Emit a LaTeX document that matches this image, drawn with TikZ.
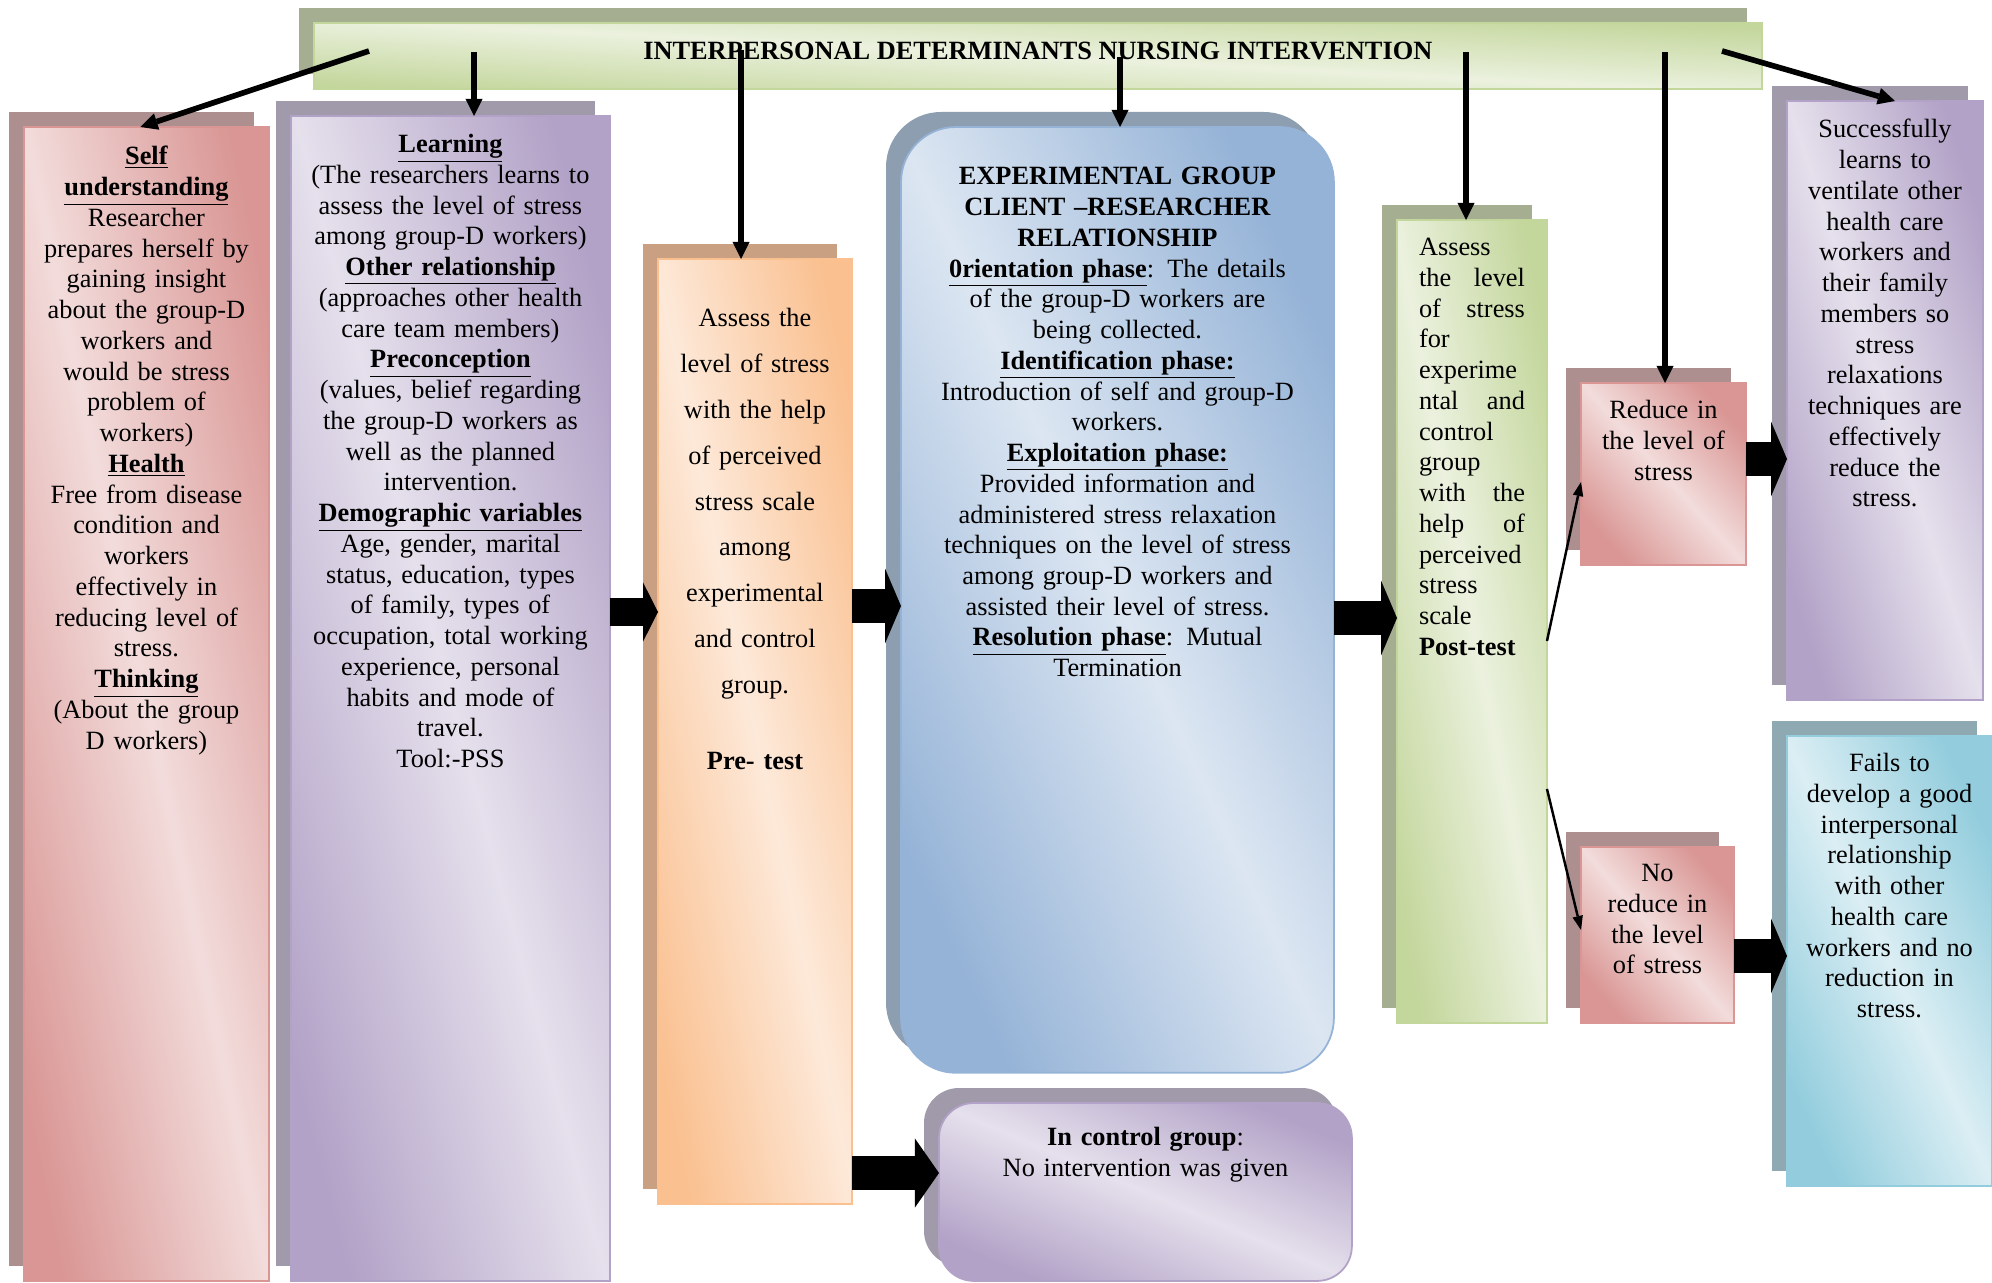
\documentclass[tikz,border=0pt]{standalone}
\usepackage{fontspec}
\setmainfont{Liberation Serif}
\usepackage{xcolor}
\usepackage{tikz}
\usetikzlibrary{arrows.meta,positioning,shadows}

\definecolor{pnkdk}{HTML}{D99694}
\definecolor{pnklt}{HTML}{F2DCDB}
\definecolor{pnksh}{HTML}{AD8F8F}
\definecolor{prpdk}{HTML}{B2A2C7}
\definecolor{prplt}{HTML}{E5E0EC}
\definecolor{prpsh}{HTML}{A09AAA}
\definecolor{orgdk}{HTML}{FAC090}
\definecolor{orglt}{HTML}{FDE9D9}
\definecolor{orgsh}{HTML}{C9A182}
\definecolor{bludk}{HTML}{95B3D7}
\definecolor{blult}{HTML}{DCE6F2}
\definecolor{blush}{HTML}{8E9EB1}
\definecolor{grndk}{HTML}{C3D69B}
\definecolor{grnlt}{HTML}{EBF1DE}
\definecolor{grnsh}{HTML}{A6AE92}
\definecolor{cyndk}{HTML}{93CDDD}
\definecolor{cynlt}{HTML}{DBEEF4}
\definecolor{cynsh}{HTML}{8FA9B2}

\newcommand{\hd}[1]{\underline{\textbf{#1}}}
\newcommand{\jl}[2]{\makebox[2.12cm]{#1\hfill #2}}

\tikzset{
  boxbase/.style={rectangle, anchor=north west, inner sep=0pt, outer sep=0pt, line width=1pt},
  grad/.style n args={3}{draw=#1, top color=#1, bottom color=#1, middle color=#2,
    shading angle=-45, general shadow={fill=#3, shadow xshift=-0.3cm, shadow yshift=0.3cm}},
  pinkbox/.style={boxbase, grad={pnkdk}{pnklt}{pnksh}},
  purplebox/.style={boxbase, grad={prpdk}{prplt}{prpsh}},
  orangebox/.style={boxbase, grad={orgdk}{orglt}{orgsh}},
  bluebox/.style={boxbase, grad={bludk}{blult}{blush}, rounded corners=1.1cm},
  greenbox/.style={boxbase, grad={grndk}{grnlt}{grnsh}},
  cyanbox/.style={boxbase, grad={cyndk}{cynlt}{cynsh}},
  boxtext/.style={align=center, inner sep=0pt, font=\fontsize{15}{17.5}\selectfont},
  titlearrow/.style={-{Triangle[length=9.7pt,width=9.7pt,line width=0pt]}, line width=3.2pt},
  sidearrow/.style={-{Triangle[length=8pt,width=6pt,line width=0pt]}, line width=1.4pt},
  blockarrow/.style={-{Triangle[length=9.1pt,width=42.7pt,line width=0pt]}, line width=19.9pt},
}

\begin{document}
\begin{tikzpicture}[x=0.02cm, y=-0.02cm]
  \useasboundingbox (0,0) rectangle (1992,1283);

  % boxes
  \node[greenbox, shading angle=-3, minimum width=28.96cm, minimum height=1.32cm, text depth=5.6pt, font=\fontsize{15}{17.5}\selectfont\bfseries] (title) at (314,23) {INTERPERSONAL DETERMINANTS NURSING INTERVENTION};
  \node[pinkbox, shading angle=-78, minimum width=4.9cm, minimum height=23.08cm] (self) at (24,127) {};
  \node[purplebox, shading angle=-75, minimum width=6.38cm, minimum height=23.3cm] (learn) at (291,116) {};
  \node[orangebox, shading angle=-78, minimum width=3.88cm, minimum height=18.9cm] (assess) at (658,259) {};
  \node[bluebox, shading angle=-65, minimum width=8.66cm, minimum height=18.92cm] (expgrp) at (901,127) {};
  \node[purplebox, shading angle=-23, rounded corners=0.7cm, minimum width=8.26cm, minimum height=3.56cm] (control) at (939,1103) {};
  \node[greenbox, shading angle=-79, minimum width=3cm, minimum height=16.06cm] (post) at (1397,220) {};
  \node[pinkbox, shading angle=-48, minimum width=3.3cm, minimum height=3.64cm] (reduce) at (1581,383) {};
  \node[purplebox, shading angle=-72, minimum width=3.92cm, minimum height=11.98cm] (success) at (1787,101) {};
  \node[pinkbox, shading angle=-49, minimum width=3.06cm, minimum height=3.52cm] (noreduce) at (1581,847) {};
  \node[cyanbox, shading angle=-65, minimum width=4.1cm, minimum height=9cm] (fails) at (1787,736) {};

  % texts
  \node[boxtext, text width=4.6cm, below=0.38cm of self.north] (selftxt) {\hd{Self}\\ \hd{understanding}\\ Researcher\\ prepares herself by\\ gaining insight\\ about the group-D\\ workers and\\ would be stress\\ problem of\\ workers)\\ \hd{Health}\\ Free from disease\\ condition and\\ workers\\ effectively in\\ reducing level of\\ stress.\\ \hd{Thinking}\\ (About the group\\ D workers)};
  \node[boxtext, text width=6.2cm, below=0.36cm of learn.north] (learntxt) {\hd{Learning}\\ (The researchers learns to\\ assess the level of stress\\ among group-D workers)\\ \hd{Other relationship}\\ (approaches other health\\ care team members)\\ \hd{Preconception}\\ (values, belief regarding\\ the group-D workers as\\ well as the planned\\ intervention.\\ \hd{Demographic variables}\\ Age, gender, marital\\ status, education, types\\ of family, types of\\ occupation, total working\\ experience, personal\\ habits and mode of\\ travel.\\ Tool:-PSS};
  \node[boxtext, text width=3.7cm, font=\fontsize{15}{26.1}\selectfont, below=0.98cm of assess.north] (assesstxt) {Assess the\\ level of stress\\ with the help\\ of perceived\\ stress scale\\ among\\ experimental\\ and control\\ group.\\[17pt] \textbf{Pre- test}};
  \node[boxtext, text width=8.4cm, below=0.8cm of expgrp.north] (expgrptxt) {\textbf{EXPERIMENTAL GROUP}\\ \textbf{CLIENT –RESEARCHER}\\ \textbf{RELATIONSHIP}\\ \hd{0rientation phase}: The details\\ of the group-D workers are\\ being collected.\\ \hd{Identification phase:}\\ Introduction of self and group-D\\ workers.\\ \hd{Exploitation phase:}\\ Provided information and\\ administered stress relaxation\\ techniques on the level of stress\\ among group-D workers and\\ assisted their level of stress.\\ \hd{Resolution phase}: Mutual\\ Termination};
  \node[boxtext, text width=8cm, below=0.48cm of control.north] (controltxt) {\textbf{In control group}:\\ No intervention was given};
  \node[boxtext, text width=2.12cm, align=left, below=0.36cm of post.north] (posttxt) {Assess\\ \jl{the}{level}\\ \jl{of}{stress}\\ for\\ experime\\ \jl{ntal}{and}\\ control\\ group\\ \jl{with}{the}\\ \jl{help}{of}\\ perceived\\ stress\\ scale\\ \textbf{Post-test}};
  \node[boxtext, text width=3.1cm, below=0.34cm of reduce.north] (reducetxt) {Reduce in\\ the level of\\ stress};
  \node[boxtext, text width=3.8cm, below=0.36cm of success.north] (successtxt) {Successfully\\ learns to\\ ventilate other\\ health care\\ workers and\\ their family\\ members so\\ stress\\ relaxations\\ techniques are\\ effectively\\ reduce the\\ stress.};
  \node[boxtext, text width=2.9cm, below=0.34cm of noreduce.north] (noreducetxt) {No\\ reduce in\\ the level\\ of stress};
  \node[boxtext, text width=4cm, below=0.34cm of fails.north] (failstxt) {Fails to\\ develop a good\\ interpersonal\\ relationship\\ with other\\ health care\\ workers and no\\ reduction in\\ stress.};

  % arrows from the banner
  \coordinate (t1) at (369,51);
  \coordinate (t2) at (474,52);
  \coordinate (t3) at (741,50);
  \coordinate (t4) at (1120,57);
  \coordinate (t5) at (1466,52);
  \coordinate (t6) at (1665,52);
  \coordinate (t7) at (1722,51);
  \draw[titlearrow] (t1) -- ([xshift=-0.12cm]self.north);
  \draw[titlearrow] (t2) -- (t2 |- learn.north);
  \draw[titlearrow] (t3) -- (t3 |- assess.north);
  \draw[titlearrow] (t4) -- (t4 |- expgrp.north);
  \draw[titlearrow] (t5) -- (t5 |- post.north);
  \draw[titlearrow] (t6) -- (t6 |- reduce.north);
  \draw[titlearrow] (t7) -- ([xshift=0.2cm]success.north);

  % block arrows
  \coordinate (b1) at (0,612);
  \coordinate (b2) at (0,606);
  \coordinate (b3) at (0,618);
  \coordinate (b4) at (0,459);
  \coordinate (b5) at (0,956);
  \coordinate (b6) at (0,1173);
  \draw[blockarrow, line width=15.9pt, -{Triangle[length=8.5pt,width=33.6pt,line width=0pt]}] (learn.east |- b1) -- (assess.west |- b1);
  \draw[blockarrow] (assess.east |- b2) -- (expgrp.west |- b2);
  \draw[blockarrow] (expgrp.east |- b3) -- (post.west |- b3);
  \draw[blockarrow] (reduce.east |- b4) -- (success.west |- b4);
  \draw[blockarrow] (noreduce.east |- b5) -- (fails.west |- b5);
  \draw[blockarrow, -{Triangle[length=13.7pt,width=39.3pt,line width=0pt]}] (assess.east |- b6) -- (control.west |- b6);

  % post-test outcomes
  \coordinate (g1) at (0,641);
  \coordinate (r1) at (0,482);
  \coordinate (g2) at (0,789);
  \coordinate (n1) at (0,930);
  \draw[sidearrow] (post.east |- g1) -- (reduce.west |- r1);
  \draw[sidearrow] (post.east |- g2) -- (noreduce.west |- n1);
\end{tikzpicture}
\end{document}
